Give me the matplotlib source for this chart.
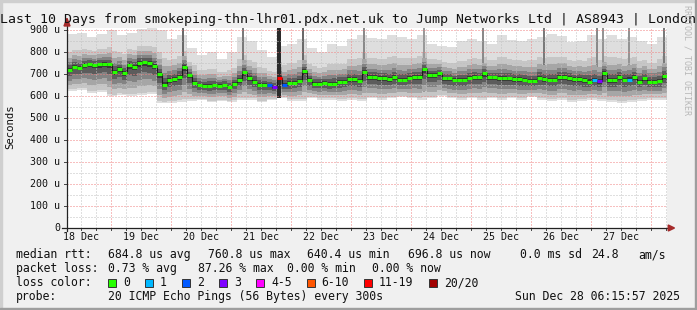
import datetime
import numpy as np
import matplotlib
matplotlib.use("Agg")
import matplotlib.pyplot as plt
from matplotlib.patches import Rectangle, Polygon
from matplotlib.transforms import blended_transform_factory

W, H = 697, 310
MONO = "DejaVu Sans Mono"

end_time = datetime.datetime(2025, 12, 28, 6, 15, 57)
start_time = end_time - datetime.timedelta(days=10)

title = "Last 10 Days from smokeping-thn-lhr01.pdx.net.uk to Jump Networks Ltd | AS8943 | London"
day_labels = ["18 Dec", "19 Dec", "20 Dec", "21 Dec", "22 Dec",
              "23 Dec", "24 Dec", "25 Dec", "26 Dec", "27 Dec"]
y_ticks = [0, 100, 200, 300, 400, 500, 600, 700, 800, 900]
y_labels = ["0", "100 u", "200 u", "300 u", "400 u", "500 u",
            "600 u", "700 u", "800 u", "900 u"]

# median rtt (us), one value per 2 hours
median_us = [
    720, 735, 730, 742, 747, 742, 745, 748, 745, 712,
    724, 706, 742, 735, 753, 755, 752, 738, 700, 652,
    672, 680, 688, 733, 695, 662, 650, 648, 648, 650,
    648, 652, 640, 656, 672, 709, 682, 666, 652, 651,
    650, 642, 683, 652, 660, 662, 669, 715, 674, 656,
    658, 662, 656, 658, 664, 667, 677, 677, 669, 712,
    686, 686, 681, 681, 677, 686, 675, 674, 684, 686,
    686, 722, 697, 697, 704, 681, 681, 674, 674, 674,
    683, 686, 686, 704, 686, 686, 681, 681, 681, 677,
    677, 675, 669, 669, 684, 678, 674, 674, 686, 686,
    683, 677, 677, 672, 667, 674, 668, 705, 674, 674,
    686, 676, 676, 686, 667, 681, 667, 667, 668, 692,
]
# columns with packet loss and their loss colour index
loss_cols = [40, 41, 42, 43, 105, 106, 112]
loss_idx = [2, 3, 6, 2, 1, 3, 1]

# outer smoke envelope (us), one value per 4 hours
smoke_top = [
    885, 890, 870, 885, 900, 880, 890, 905, 910, 900,
    860, 880, 820, 790, 800, 770, 800, 870, 850, 810,
    780, 830, 840, 860, 820, 800, 840, 830, 860, 880,
    865, 860, 880, 870, 860, 880, 840, 830, 825, 850,
    860, 850, 840, 880, 855, 850, 860, 870, 885, 875,
    845, 850, 880, 860, 880, 860, 870, 850, 840, 870,
]
smoke_bottom = [
    625, 630, 615, 620, 600, 605, 600, 605, 610, 570,
    570, 575, 580, 585, 575, 580, 575, 585, 585, 575,
    585, 590, 580, 580, 590, 585, 585, 580, 585, 580,
    590, 585, 590, 595, 590, 585, 590, 600, 590, 585,
    590, 585, 590, 585, 590, 585, 595, 585, 580, 585,
    575, 580, 585, 580, 575, 570, 575, 580, 585, 585,
]

# tall grey columns (hours after start) and the black one on 21 Dec
spike_hours = [46.4, 70.4, 94.4, 118.8, 142.8, 166.4, 190.8, 212.0, 214.4, 224.8, 238.8]
spike_low = [640, 640, 640, 620, 620, 620, 620, 620, 620, 620, 620]
spike_shade = ["#6a6a6a", "#7a7a7a", "#6a6a6a", "#8a8a8a", "#9a9a9a",
               "#8a8a8a", "#7a7a7a", "#8a8a8a", "#949494", "#949494", "#7a7a7a"]
black_hour = 84.8
black_low = 592

loss_colors = ["#26ff00", "#00b8ff", "#0059ff", "#7e00ff",
               "#ff00ff", "#ff5500", "#ff0000", "#a10000"]
loss_names = ["0", "1", "2", "3", "4-5", "6-10", "11-19", "20/20"]

rtt_stats = ["684.8 us avg", "760.8 us max", "640.4 us min", "696.8 us now",
             "0.0 ms sd", "24.8", "am/s"]
loss_stats = ["0.73 % avg", "87.26 % max", "0.00 % min", "0.00 % now"]
probe_text = "20 ICMP Echo Pings (56 Bytes) every 300s"
stamp_text = "Sun Dec 28 06:15:57 2025"


def fx(x):
    return x / W


def fy(y):
    return 1 - y / H


fig = plt.figure(figsize=(W / 100, H / 100), dpi=100, facecolor="#f0f0f0")
ax = fig.add_axes([fx(67), fy(228), 600 / W, 200 / H])
ax.set_facecolor("white")
ax.set_xlim(0, 240)
ax.set_ylim(0, 200 / 0.2196)
ax.set_xticks([])
ax.set_yticks([])
for s in ax.spines.values():
    s.set_visible(False)

# smoke: shades from the outer envelope in towards the median
med = np.array(median_us, dtype=float)
top = np.repeat(smoke_top, 2).astype(float)
bot = np.repeat(smoke_bottom, 2).astype(float)
centers = np.arange(len(med)) * 2 + 1
bands = [(1.0, 1.0, "#dedede"), (0.5, 0.93, "#c6c6c6"), (0.34, 0.72, "#a6a6a6"),
         (0.22, 0.52, "#838383"), (0.13, 0.31, "#5c5c5c"), (0.05, 0.12, "#383838")]
for k, (up, dn, col) in enumerate(bands):
    hi = med + up * (top - med)
    lo = med - dn * (med - bot)
    ax.bar(centers, hi - lo, bottom=lo, width=2.0, color=col, linewidth=0,
           antialiased=False, zorder=1 + 0.1 * k)

ax.bar(spike_hours, [1000 - v for v in spike_low], bottom=spike_low, width=0.8,
       color=spike_shade, linewidth=0, antialiased=False, zorder=1.15)
ax.bar([black_hour], [1000 - black_low], bottom=black_low, width=1.6,
       color="#2b2b2b", linewidth=0, antialiased=False, zorder=1.9)

# grid
midnight = (24 - (start_time.hour + start_time.minute / 60 + start_time.second / 3600))
dot = (0, (1, 2))
for v in range(50, 911, 50):
    major = v % 100 == 0
    ax.axhline(v, color="#f08080" if major else "#c0c0c0", lw=0.72, ls=dot, zorder=2)
for k in range(-3, 40):
    h = midnight + k * 6
    if 0 < h < 240:
        major = k % 4 == 0
        ax.axvline(h, color="#f08080" if major else "#c0c0c0", lw=0.72, ls=dot, zorder=2)

# median line coloured by loss
edges = np.arange(len(med) + 1) * 2
ax.stairs(med, edges, baseline=None, color="#1a1a1a", lw=0.8, zorder=3)
col_colors = [loss_colors[0]] * len(med)
for c, i in zip(loss_cols, loss_idx):
    col_colors[c] = loss_colors[i]
ax.hlines(med, edges[:-1], edges[1:], colors=col_colors, lw=2.2, zorder=4)

# axes with arrows
px_h = 0.4          # hours per pixel
px_v = 1 / 0.2196   # us per pixel
ax.plot([-5 * px_h, 241], [0, 0], color="#222222", lw=0.9, clip_on=False, zorder=5)
ax.plot([0, 0], [-3 * px_v, 925], color="#222222", lw=0.9, clip_on=False, zorder=5)
ax.add_patch(Polygon([[240.5, 3 * px_v], [240.5, -3 * px_v], [243, 0]], closed=True,
                     color="#a52a2a", clip_on=False, zorder=6))
ax.add_patch(Polygon([[-3 * px_h, 920], [3 * px_h, 920], [0, 955]], closed=True,
                     color="#a52a2a", clip_on=False, zorder=6))
for v in y_ticks[1:]:
    ax.plot([-3 * px_h, 0], [v, v], color="#444444", lw=0.7, clip_on=False)
for k in range(-3, 40):
    h = midnight + k * 6
    if 0 < h < 240:
        ax.plot([h, h], [0, -2 * px_v], color="#444444", lw=0.7, clip_on=False)

# tick labels
ytr = blended_transform_factory(fig.transFigure, ax.transData)
for v, lab in zip(y_ticks, y_labels):
    fig.text(fx(60), v, lab, transform=ytr, ha="right", va="center",
             fontsize=7.2, family=MONO, color="#111111")
xtr = blended_transform_factory(ax.transData, fig.transFigure)
for k, lab in enumerate(day_labels):
    fig.text(midnight - 12 + 24 * k, fy(237), lab, transform=xtr, ha="center",
             va="center", fontsize=7.2, family=MONO, color="#111111")

fig.text(fx(10), fy(127), "Seconds", rotation=90, ha="center", va="center",
         fontsize=7.7, family=MONO, color="#111111")
fig.text(fx(348.5), fy(23), title, ha="center", va="baseline",
         fontsize=9.55, family=MONO, color="#111111")
fig.text(fx(687), fy(60), "RRDTOOL / TOBI OETIKER", rotation=270, ha="center",
         va="center", fontsize=6, family=MONO, color="#b8b8b8")

# legend
leg = dict(fontsize=8.3, family=MONO, color="#111111", va="baseline")
fig.text(fx(16), fy(258), "median rtt:", **leg)
for txt, x in zip(rtt_stats, [107.6, 208, 306.7, 408, 520, 591, 638]):
    fig.text(fx(x), fy(258), txt, **leg)
fig.text(fx(16), fy(272), "packet loss:", **leg)
for txt, x in zip(loss_stats, [107.6, 197.8, 286.7, 372.4]):
    fig.text(fx(x), fy(272), txt, **leg)
fig.text(fx(16), fy(286), "loss color:", **leg)
box_x = [108, 145, 182, 219, 256, 306.7, 364, 429]
for col, name, x in zip(loss_colors, loss_names, box_x):
    fig.add_artist(Rectangle((fx(x), fy(286.5)), 8 / W, 8 / H, transform=fig.transFigure,
                             facecolor=col, edgecolor="#333333", lw=0.7))
    fig.text(fx(x + 15), fy(286), name, **leg)
fig.text(fx(16), fy(300), "probe:", **leg)
fig.text(fx(107.6), fy(300), probe_text, **leg)
fig.text(fx(680), fy(300), stamp_text, ha="right", fontsize=8.3, family=MONO,
         color="#111111", va="baseline")

# 3d frame
fig.add_artist(Rectangle((0, fy(2)), 1, 2 / H, transform=fig.transFigure, color="#cfcfcf"))
fig.add_artist(Rectangle((0, 0), 2 / W, 1, transform=fig.transFigure, color="#cfcfcf"))
fig.add_artist(Rectangle((0, 0), 1, 2 / H, transform=fig.transFigure, color="#9e9e9e"))
fig.add_artist(Rectangle((fx(695), 0), 2 / W, 1, transform=fig.transFigure, color="#9e9e9e"))

fig.savefig("out.png", dpi=100, facecolor=fig.get_facecolor())
